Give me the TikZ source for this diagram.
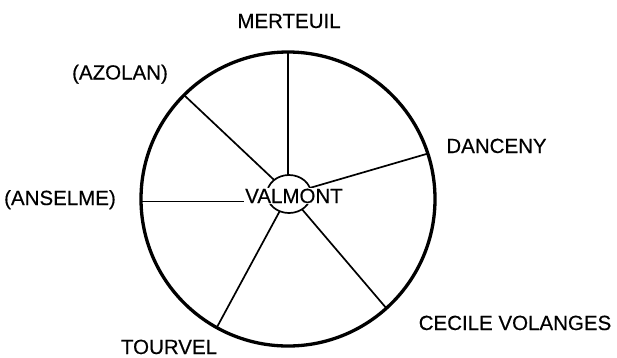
\documentclass[tikz,border=0pt]{standalone}
\usepackage{fontspec}
\setmainfont{Liberation Sans}
\newfontfamily\lblfont[FakeBold=0.4]{Liberation Sans}
\usetikzlibrary{shapes.geometric}
\begin{document}
\begin{tikzpicture}[x=1pt,y=-1pt,
  lbl/.style={font=\lblfont\fontsize{20.5}{24}\selectfont, anchor=base, inner sep=0pt},
  spoke/.style={line width=1.7pt},
  rim/.style={draw, circle, line width=3.3pt, minimum size=294pt, inner sep=0pt, outer sep=0pt},
  hub/.style={draw, ellipse, line width=1.7pt, minimum width=44pt, minimum height=38pt, inner sep=0pt, outer sep=0pt}]
\useasboundingbox (0,0) rectangle (617,357);
\node[rim] (c) at (288,199) {};
\node[hub] (v) at (289,194) {};
\draw[spoke] (c.90) -- (c.90 |- v.north);
\draw[spoke] (c.135.5) -- (v);
\draw[spoke] (c.18.7) -- (v);
\draw[spoke] (c.241) -- (v);
\draw[spoke] (c.312.8) -- (v);
\node[lbl, fill=white, inner sep=1pt] (val) at (294,203) {VALMONT};
\draw[spoke] (c.181.2) -- (c.181.2 -| val.west);
\node[lbl] (mer) at (289,28) {MERTEUIL};
\node[lbl] (azo) at (120,79.5) {(AZOLAN)};
\node[lbl] (dan) at (496.5,153) {DANCENY};
\node[lbl] (ans) at (60,205) {(ANSELME)};
\node[lbl] (tou) at (169,354) {TOURVEL};
\node[lbl] (cec) at (515,330) {CECILE VOLANGES};
\end{tikzpicture}
\end{document}
